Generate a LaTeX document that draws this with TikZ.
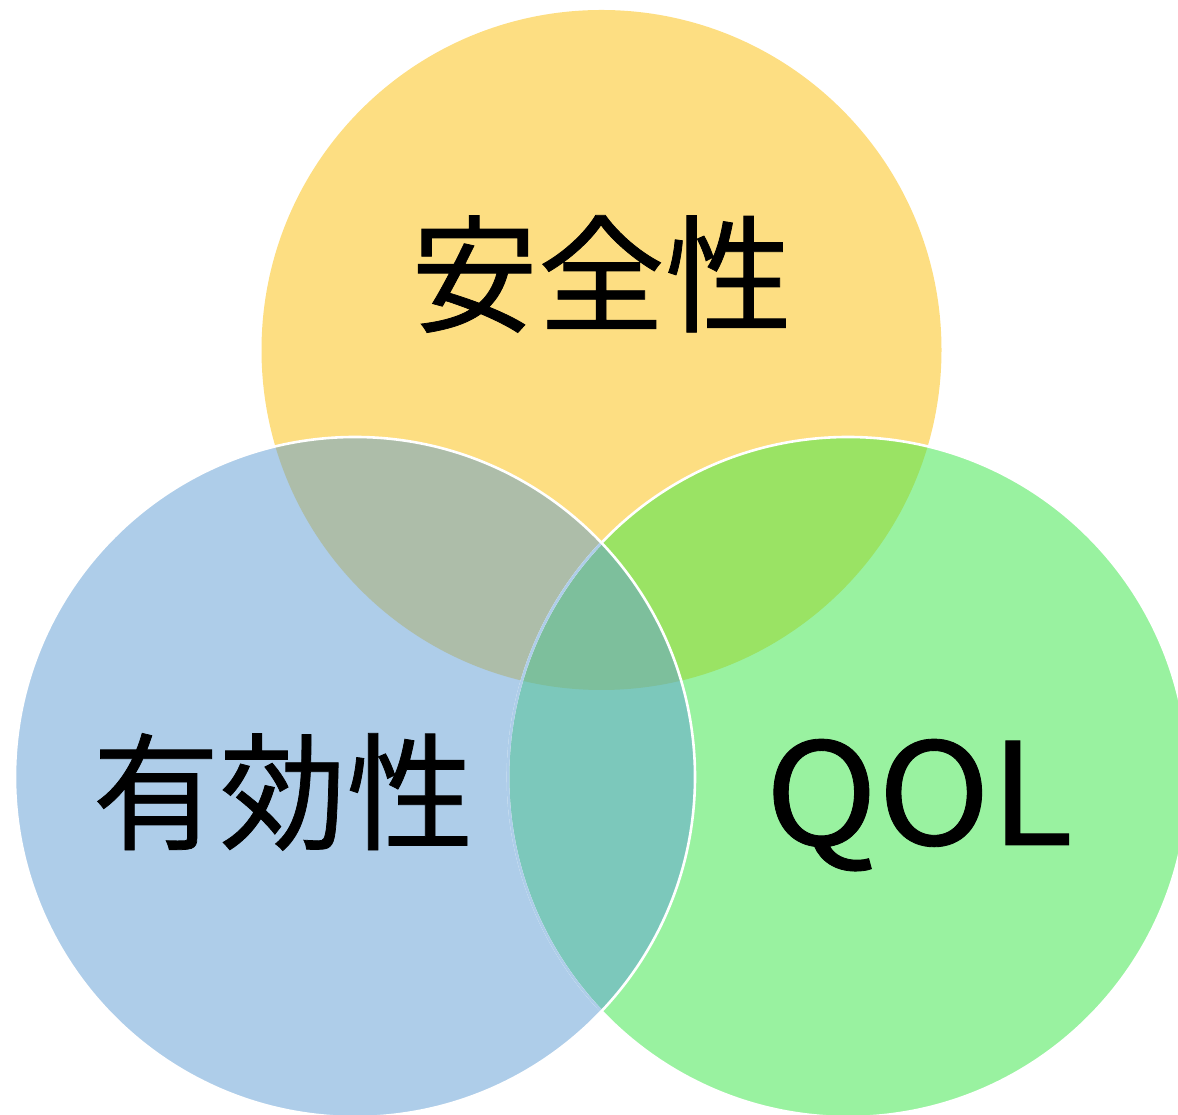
\documentclass[tikz,border=0pt]{standalone}
\usepackage{fontspec}
\newfontfamily\cjk[FakeBold=0.6]{Noto Sans CJK JP}
\newfontfamily\qolfont[FakeStretch=1.07,FakeBold=0.6]{Noto Sans CJK JP}
\definecolor{cY}{HTML}{FDDE82}
\definecolor{cB}{HTML}{AECDE9}
\definecolor{cG}{HTML}{99F2A0}
\definecolor{cYB}{HTML}{ADBDA9}
\definecolor{cYG}{HTML}{9AE364}
\definecolor{cBG}{HTML}{7CC8BB}
\definecolor{cYBG}{HTML}{7DBF9C}
\begin{document}
\begin{tikzpicture}[x=1pt,y=1pt,
  lbl/.style={font=\cjk\fontsize{127}{127}\selectfont, inner sep=0pt},
  ring/.style={white, line width=2.6pt}]
\useasboundingbox (0,0) rectangle (1178,1115);
\clip (0,0) rectangle (1178,1115);
\coordinate (cy) at (601.5,765);
\coordinate (cb) at (355,338);
\coordinate (cg) at (848,338);
% base fills
\fill[cY] (cy) circle[radius=340pt];
\fill[cG] (cg) circle[radius=340pt];
\fill[cB] (cb) circle[radius=340pt];
% overlaps
\begin{scope}
  \clip (cy) circle[radius=340pt];
  \fill[cYB] (cb) circle[radius=340pt];
  \fill[cYG] (cg) circle[radius=340pt];
\end{scope}
\begin{scope}
  \clip (cb) circle[radius=340pt];
  \fill[cBG] (cg) circle[radius=340pt];
  \clip (cg) circle[radius=340pt];
  \fill[cYBG] (cy) circle[radius=340pt];
\end{scope}
% outlines
\draw[ring] (cg) circle[radius=340pt];
\begin{scope}
  \clip (cb) circle[radius=340pt];
  \draw[cB, line width=2.6pt] (cg) circle[radius=340pt];
\end{scope}
\draw[ring] (cb) circle[radius=340pt];
% labels
\node[lbl] (safety) at (601.5,841) {安全性};
\node[lbl] (efficacy) at (283,323) {有効性};
\node[lbl, font=\qolfont\fontsize{142}{142}\selectfont, anchor=base] (qol) at (919,270) {QOL};
\end{tikzpicture}
\end{document}
